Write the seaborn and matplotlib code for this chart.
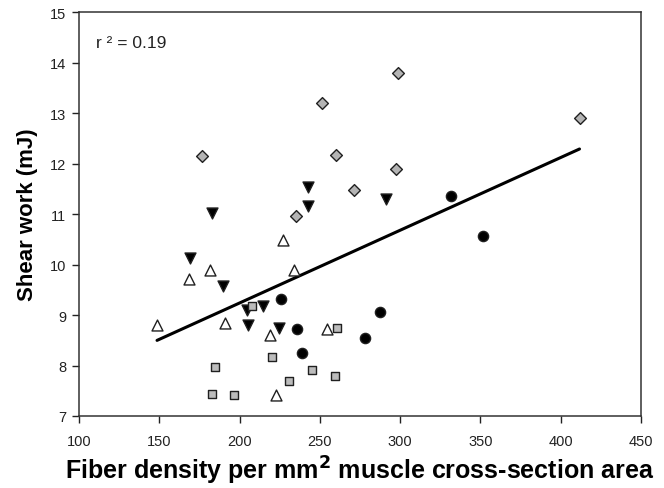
import numpy as np
import pandas as pd
import matplotlib
matplotlib.use("Agg")
import matplotlib.pyplot as plt
import seaborn as sns

# ---- data ----
diamond_x = [176.8, 251.1, 259.8, 235.0, 298.8, 411.7, 297.2, 271.4]
diamond_y = [12.16, 13.20, 12.18, 10.96, 13.80, 12.91, 11.90, 11.47]

tri_down_x = [242.7, 242.7, 182.7, 290.9, 169.0, 189.5, 204.9, 214.3, 205.5, 224.6]
tri_down_y = [11.53, 11.17, 11.02, 11.30, 10.13, 9.58, 9.10, 9.18, 8.81, 8.74]

tri_up_x = [227.1, 181.8, 168.3, 234.0, 148.6, 190.9, 254.5, 218.8, 222.4]
tri_up_y = [10.48, 9.90, 9.72, 9.90, 8.81, 8.85, 8.73, 8.60, 7.42]

circle_x = [226.1, 235.8, 238.7, 331.5, 351.4, 287.4, 278.3]
circle_y = [9.32, 8.72, 8.24, 11.36, 10.57, 9.06, 8.54]

square_x = [208.0, 260.8, 220.5, 184.5, 245.2, 259.2, 230.9, 182.7, 196.6]
square_y = [9.17, 8.74, 8.17, 7.97, 7.92, 7.80, 7.70, 7.44, 7.41]

x_ticks = [100, 150, 200, 250, 300, 350, 400, 450]
y_ticks = [7, 8, 9, 10, 11, 12, 13, 14, 15]
r2_text = "r \u00b2 = 0.19"

groups = {
    "diamond": (diamond_x, diamond_y),
    "tri_down": (tri_down_x, tri_down_y),
    "tri_up": (tri_up_x, tri_up_y),
    "circle": (circle_x, circle_y),
    "square": (square_x, square_y),
}
rows = []
for g, (xs, ys) in groups.items():
    for a, b in zip(xs, ys):
        rows.append({"x": a, "y": b, "group": g})
df = pd.DataFrame(rows)

sns.set_style("ticks")
plt.rcParams["font.family"] = ["Liberation Sans", "DejaVu Sans"]

fig = plt.figure(figsize=(6.64, 4.89), dpi=100)
ax = fig.add_axes([79.0 / 664, 1 - 417.0 / 489, (641.0 - 79.0) / 664, (417.0 - 13.3) / 489])

styles = {
    "diamond": dict(marker="D", color="#b4b4b4", s=36),
    "tri_down": dict(marker="v", color="#000000", s=62),
    "tri_up": dict(marker="^", color="#ffffff", s=62),
    "circle": dict(marker="o", color="#000000", s=54),
    "square": dict(marker="s", color="#bcbcbc", s=36),
}

# regression line over all points
sns.regplot(data=df, x="x", y="y", scatter=False, ci=None, truncate=True,
            line_kws=dict(color="black", lw=2.2), ax=ax)

for g, st in styles.items():
    sub = df[df["group"] == g]
    sns.scatterplot(data=sub, x="x", y="y", marker=st["marker"], color=st["color"],
                    s=st["s"], edgecolor="#202020", linewidth=1.0, ax=ax,
                    legend=False, zorder=3)

ax.set_xlim(100, 450)
ax.set_ylim(7, 15)
ax.set_xticks(x_ticks)
ax.set_yticks(y_ticks)
ax.tick_params(direction="out", length=5, width=1, labelsize=10.5,
               colors="#222222")
ax.tick_params(axis="x", pad=8)
ax.tick_params(axis="y", pad=4)

for sp in ax.spines.values():
    sp.set_visible(True)
    sp.set_color("#333333")
    sp.set_linewidth(1.1)

ax.set_xlabel("Fiber density per mm$^{\\mathbf{2}}$ muscle cross-section area",
              fontsize=18, fontweight="bold", labelpad=4, color="black")
ax.set_ylabel("Shear work (mJ)", fontsize=16, fontweight="bold", labelpad=9,
              color="black")

ax.text(0.03, 0.925, r2_text, transform=ax.transAxes, fontsize=12.5,
        color="#222222", ha="left", va="center")

fig.savefig("out.png", dpi=100)
